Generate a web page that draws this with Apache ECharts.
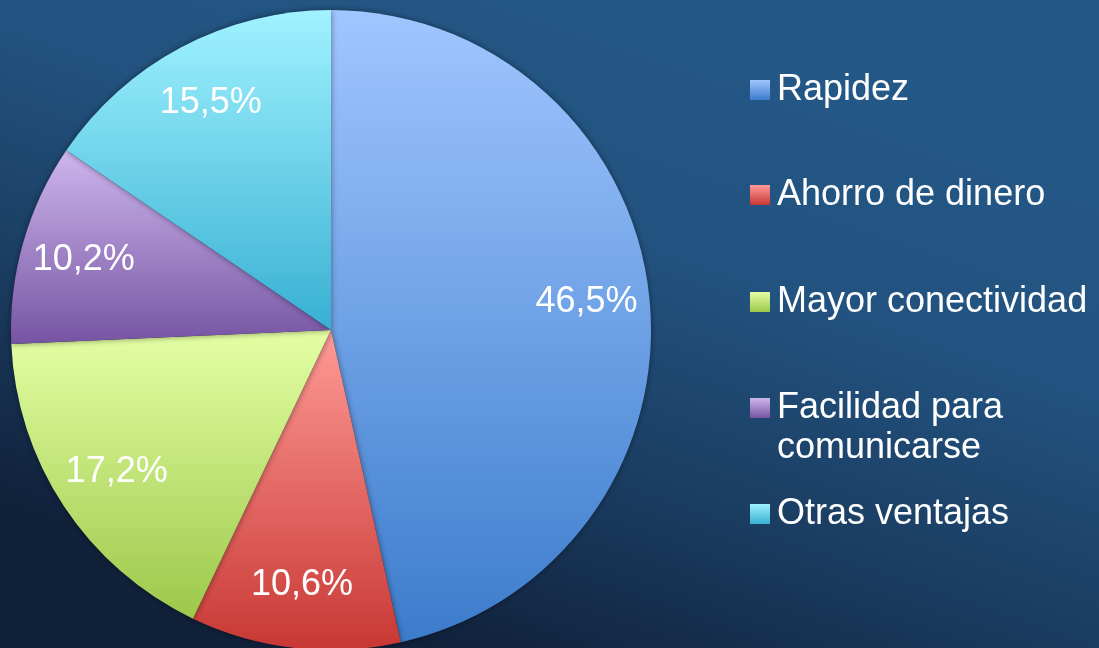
<!DOCTYPE html>
<html>
<head>
<meta charset="utf-8">
<script src="https://cdn.jsdelivr.net/npm/echarts@6/dist/echarts.min.js"></script>
<style>
  html, body { margin: 0; padding: 0; background: #1a3d62; }
  #chart { width: 1099px; height: 648px; }
</style>
</head>
<body>
<div id="chart"></div>
<script>
// Ventajas: share of answers per category (percent)
const categories = ['Rapidez', 'Ahorro de dinero', 'Mayor conectividad', 'Facilidad para comunicarse', 'Otras ventajas'];
const values = [46.5, 10.6, 17.2, 10.2, 15.5];

// Slice fills: light tone at the top of each slice, deeper tone at the bottom
const sliceTop = ['#a0c6ff', '#ff9a96', '#e4ffa4', '#ceb6ee', '#a0f2ff'];
const sliceBottom = ['#3c7ccc', '#c83834', '#9cc84a', '#7654a2', '#38b0d2'];

function vGrad(top, bottom) {
  return new echarts.graphic.LinearGradient(0, 0, 0, 1, [
    { offset: 0, color: top },
    { offset: 1, color: bottom }
  ]);
}

const fmtPct = v => v.toFixed(1).replace('.', ',') + '%';

const pieData = categories.map((name, i) => ({
  name: name,
  value: values[i],
  itemStyle: { color: vGrad(sliceTop[i], sliceBottom[i]) }
}));

// Legend rows: vertical centre of each marker
const legendCenters = [85, 190, 297, 403, 509];
const legends = categories.map((name, i) => {
  const twoLine = name === 'Facilidad para comunicarse';
  return {
    data: [name],
    orient: 'vertical',
    left: 750,
    top: legendCenters[i] - (twoLine ? 60 : 20) + 5,
    padding: 0,
    icon: 'rect',
    itemWidth: 20,
    itemHeight: 20,
    itemGap: 0,
    selectedMode: false,
    itemStyle: { shadowBlur: 0, borderWidth: 0 },
    formatter: n => twoLine ? '\nFacilidad para\ncomunicarse' : n,
    textStyle: {
      color: '#ffffff',
      fontFamily: 'Liberation Sans, Arial, sans-serif',
      fontSize: 36,
      lineHeight: 40,
      padding: [0, 0, 0, 2]
    }
  };
});

const chart = echarts.init(document.getElementById('chart'), null, { renderer: 'canvas' });
chart.setOption({
  animation: false,
  backgroundColor: new echarts.graphic.LinearGradient(0.6, 0, 0.4, 1, [
    { offset: 0, color: '#245887' },
    { offset: 0.35, color: '#22527f' },
    { offset: 0.7, color: '#1a3b5f' },
    { offset: 1, color: '#10213a' }
  ]),
  legend: legends,
  series: [
    {
      type: 'pie',
      center: [331, 330],
      radius: [0, 320],
      startAngle: 90,
      clockwise: true,
      silent: true,
      label: { show: false },
      labelLine: { show: false },
      itemStyle: {
        borderWidth: 0,
        shadowBlur: 6,
        shadowColor: 'rgba(0, 0, 0, 0.45)'
      },
      emphasis: { disabled: true },
      data: pieData
    },
    {
      // percentage labels placed in the outer part of each slice
      type: 'pie',
      center: [331, 330],
      radius: [188, 320],
      startAngle: 90,
      clockwise: true,
      silent: true,
      avoidLabelOverlap: false,
      itemStyle: { color: 'rgba(0,0,0,0)' },
      emphasis: { disabled: true },
      labelLine: { show: false },
      label: {
        show: true,
        position: 'inside',
        color: '#ffffff',
        fontFamily: 'Liberation Sans, Arial, sans-serif',
        fontSize: 36,
        textBorderWidth: 0,
        formatter: p => fmtPct(p.value)
      },
      data: categories.map((name, i) => ({ name: name, value: values[i] }))
    }
  ]
});
</script>
</body>
</html>
